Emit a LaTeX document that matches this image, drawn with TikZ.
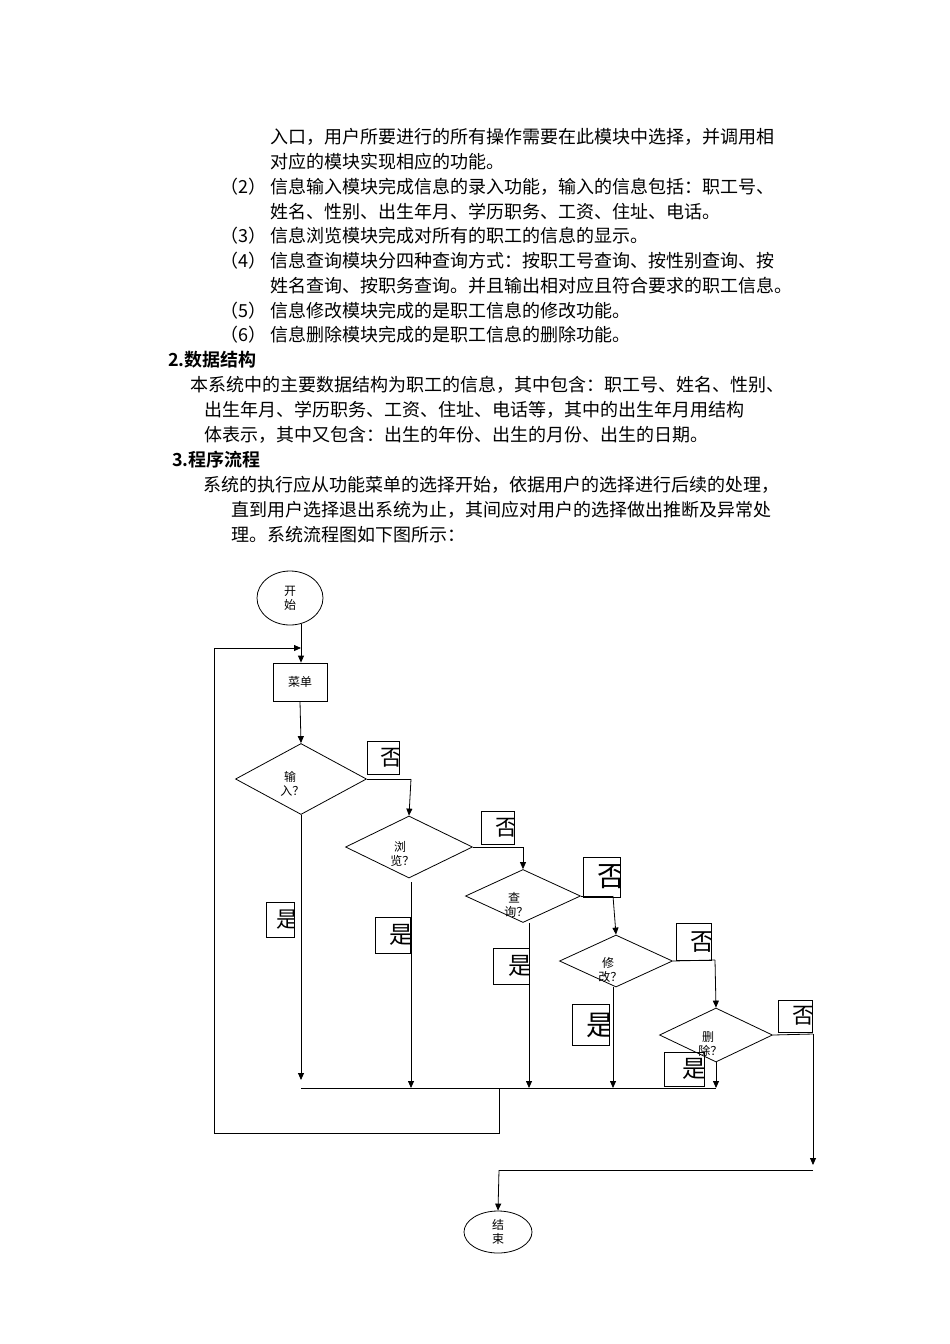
\documentclass[tikz,border=0pt]{standalone}
\usepackage{fontspec}
\setmainfont{Liberation Serif}
\newfontfamily\cjk{Noto Sans CJK SC}
\newfontfamily\cjkb{Noto Sans CJK SC Bold}
\usetikzlibrary{arrows.meta,shapes.geometric}
\begin{document}
\begin{tikzpicture}[x=1pt,y=-1pt,
  body/.style={anchor=west,inner sep=0pt,font=\cjk\fontsize{18}{20}\selectfont},
  lbl/.style={font=\cjk\fontsize{12}{14}\selectfont,align=center,inner sep=0pt},
  ln/.style={line width=0.8pt},
  arr/.style={ln,-{Triangle[length=7pt,width=6pt]}},
  yn/.style={draw,line width=0.8pt,inner sep=0pt},
]
\useasboundingbox[fill=white] (0,0) rectangle (950,1344);
% text
\node[body] at (270,137) {入口，用户所要进行的所有操作需要在此模块中选择，并调用相};
\node[body] at (270,162) {对应的模块实现相应的功能。};
\node[body] at (220,187) {（2）};
\node[body] at (270,187) {信息输入模块完成信息的录入功能，输入的信息包括：职工号、};
\node[body] at (270,212) {姓名、性别、出生年月、学历职务、工资、住址、电话。};
\node[body] at (220,236) {（3）};
\node[body] at (270,236) {信息浏览模块完成对所有的职工的信息的显示。};
\node[body] at (220,261) {（4）};
\node[body] at (270,261) {信息查询模块分四种查询方式：按职工号查询、按性别查询、按};
\node[body] at (270,286) {姓名查询、按职务查询。并且输出相对应且符合要求的职工信息。};
\node[body] at (220,311) {（5）};
\node[body] at (270,311) {信息修改模块完成的是职工信息的修改功能。};
\node[body] at (220,335) {（6）};
\node[body] at (270,335) {信息删除模块完成的是职工信息的删除功能。};
\node[body,font=\cjkb\fontsize{18}{20}\selectfont] at (168,360) {2.数据结构};
\node[body] at (190,385) {本系统中的主要数据结构为职工的信息，其中包含：职工号、姓名、性别、};
\node[body] at (204,410) {出生年月、学历职务、工资、住址、电话等，其中的出生年月用结构};
\node[body] at (204,435) {体表示，其中又包含：出生的年份、出生的月份、出生的日期。};
\node[body,font=\cjkb\fontsize{18}{20}\selectfont] at (172,460) {3.程序流程};
\node[body] at (203,485) {系统的执行应从功能菜单的选择开始，依据用户的选择进行后续的处理，};
\node[body] at (231,510) {直到用户选择退出系统为止，其间应对用户的选择做出推断及异常处};
\node[body] at (231,535) {理。系统流程图如下图所示：};
% shapes
\node[draw,ln,ellipse,minimum width=66pt,minimum height=54pt,lbl] (start) at (290,598) {开\\始};
\node[draw,ln,minimum width=54pt,minimum height=38pt,lbl] (menu) at (300,682) {菜单};
\node[draw,ln,diamond,aspect=1.85,minimum width=131pt,minimum height=71pt,inner sep=0pt] (d1) at (301,779) {};
\node[lbl] at (290,784) {输\\\ \,入？};
\node[draw,ln,diamond,aspect=2,minimum width=127pt,minimum height=62pt,inner sep=0pt] (d2) at (409,847) {};
\node[lbl] at (400,854) {浏\\\ \,览？};
\node[draw,ln,diamond,aspect=2.1,minimum width=115pt,minimum height=53pt,inner sep=0pt] (d3) at (523,896) {};
\node[lbl] at (514,905) {查\\\ \,询？};
\node[draw,ln,diamond,aspect=2.1,minimum width=113pt,minimum height=52pt,inner sep=0pt] (d4) at (616,961) {};
\node[lbl] at (608,970) {修\\\ \,改？};
\node[draw,ln,diamond,aspect=2.1,minimum width=113pt,minimum height=54pt,inner sep=0pt] (d5) at (716,1035) {};
\node[lbl] at (708,1044) {删\\\ \,除？};
\node[draw,ln,ellipse,minimum width=68pt,minimum height=42pt,lbl] (end) at (498,1232) {结\\束};
% yes/no boxes
\newcommand\ynbox[6]{\node[yn,minimum width=#3pt,minimum height=#4pt,
  path picture={\node[font=\cjk\fontsize{#5}{#5}\selectfont,inner sep=0pt] at ([xshift=#3pt*0.25]path picture bounding box.center) {#6};}] at (#1,#2) {};}
\ynbox{383}{758}{32}{33}{22}{否}
\ynbox{280}{920}{28}{35}{22}{是}
\ynbox{498}{828}{33}{33}{22}{否}
\ynbox{393}{935}{35}{36}{24}{是}
\ynbox{602}{877}{37}{40}{28}{否}
\ynbox{511}{966}{36}{36}{24}{是}
\ynbox{694}{942}{35}{37}{24}{否}
\ynbox{591}{1025}{37}{41}{28}{是}
\ynbox{795}{1016}{34}{32}{22}{否}
\ynbox{684}{1069}{40}{34}{24}{是}
% connectors
\coordinate (loopL) at (214,648);
\coordinate (loopB) at (214,1133);
\coordinate (loopR) at (499,1133);
\coordinate (loopT) at (499,1088);
\draw[ln] (loopT) -- (loopR) -- (loopB) -- (loopL);
\draw[arr] (loopL) -- (301,648);
\draw[arr] (301,624) -- (menu.north-|301,0);
\draw[arr] (menu.south) -- (d1.north);
\draw[ln] (d1.east) -- (411,779);
\draw[arr] (411,779) -- (d2.north);
\draw[ln] (d2.east) -- (523,847);
\draw[arr] (523,847) -- (d3.north);
\draw[ln] (d3.east) -- (613,896);
\draw[arr] (613,896) -- (d4.north);
\draw[ln] (d4.east) -- (715,960);
\draw[arr] (715,960) -- (d5.north);
\draw[ln] (d5.east) -- (813,1034);
\coordinate (rdown) at (813,1165);
\draw[arr] (813,1034) -- (rdown);
\draw[ln] (813,1170) -- (499,1170);
\draw[arr] (499,1170) -- (end.north);
\draw[arr] (d1.south) -- (301,1080);
\draw[arr] (411,882) -- (411,1088);
\draw[arr] (529,923) -- (529,1088);
\draw[arr] (613,987) -- (613,1088);
\draw[arr] (d5.south) -- (716,1088);
\draw[ln] (301,1088) -- (716,1088);
\end{tikzpicture}
\end{document}
